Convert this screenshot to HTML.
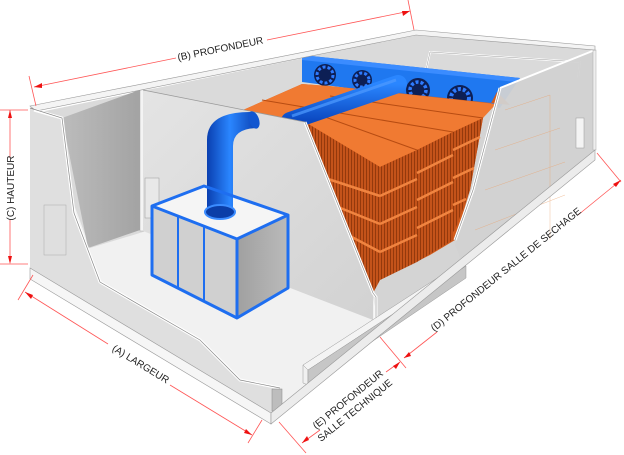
<!DOCTYPE html>
<html><head><meta charset="utf-8"><style>
html,body{margin:0;padding:0;background:#fff;}
svg{display:block;}
text{font-family:"Liberation Sans",Arial,sans-serif;font-size:10px;fill:#222;}
</style></head><body>
<svg width="624" height="455" viewBox="0 0 624 455" xmlns="http://www.w3.org/2000/svg">
<defs>
<linearGradient id="ldark" x1="0" y1="0" x2="1" y2="0"><stop offset="0" stop-color="#bcbcbc"/><stop offset="1" stop-color="#a2a2a2"/></linearGradient>
<linearGradient id="part" x1="0" y1="0" x2="1" y2="1"><stop offset="0" stop-color="#e4e4e4"/><stop offset="1" stop-color="#d2d2d2"/></linearGradient>
<linearGradient id="duct" x1="0" y1="0" x2="1" y2="0"><stop offset="0" stop-color="#0a3fb0"/><stop offset="0.45" stop-color="#2a86ff"/><stop offset="1" stop-color="#0a3fb0"/></linearGradient>
<linearGradient id="hduct" x1="0" y1="0" x2="0" y2="1"><stop offset="0" stop-color="#2a86ff"/><stop offset="1" stop-color="#0b48c0"/></linearGradient>
<linearGradient id="cabR" x1="0" y1="0" x2="1" y2="0"><stop offset="0" stop-color="#a0a0a0"/><stop offset="1" stop-color="#bababa"/></linearGradient>
<pattern id="stripes" width="3" height="6" patternUnits="userSpaceOnUse"><rect width="3" height="6" fill="#c4531a"/><rect width="1" height="6" fill="#94390c"/></pattern>
</defs>

<polygon points="30,267 271,413 595,150 595,60 142,89" fill="#f1f1f1"/>
<polygon points="40,112 416,35 595,50 595,110 143,232 90,248" fill="#dadada"/>
<polygon points="62,118 142,89 143,229 88,248" fill="url(#ldark)"/>
<rect x="140" y="89" width="4" height="142" fill="#f4f4f4" stroke="#aaa" stroke-width="0.5"/>
<polygon points="305,122 498,88 595,50 595,150 462,262 376,320 373,293" fill="#d4d4d4"/>
<polyline points="426,70 430,52 580,62 578,78" fill="none" stroke="#fff" stroke-width="2"/>
<polyline points="426,70 430,52 580,62 578,78" fill="none" stroke="#999" stroke-width="0.5"/>

<polygon points="302,55 520,78 500,108 302,82" fill="#1f78f0"/>
<polygon points="302,55 520,78 516,82 302,60" fill="#3b8cff"/>
<g>
<circle cx="325" cy="75" r="11" fill="#0d1f55"/><circle cx="325" cy="75" r="8" fill="none" stroke="#2e7bff" stroke-width="3" stroke-dasharray="3 2"/>
<circle cx="362" cy="80" r="10" fill="#0d1f55"/><circle cx="362" cy="80" r="7" fill="none" stroke="#2e7bff" stroke-width="3" stroke-dasharray="3 2"/>
<circle cx="418" cy="90" r="12" fill="#0d1f55"/><circle cx="418" cy="90" r="8" fill="none" stroke="#2e7bff" stroke-width="3.5" stroke-dasharray="3 2"/>
<circle cx="460" cy="98" r="13" fill="#0d1f55"/><circle cx="460" cy="98" r="9" fill="none" stroke="#2e7bff" stroke-width="4" stroke-dasharray="3 2"/>
</g>

<polygon points="243,110 302,84 350,88 510,105 497,92 483,118 470,190 455,240 430,255 380,280 373,293 305,122" fill="#d25c1c"/>
<polygon points="243,110 302,84 330,86 496,104 483,118 453,132 417,150 380,167 305,122" fill="#f07a32"/>
<line x1="262" y1="100" x2="453" y2="132" stroke="#b74c12" stroke-width="1"/>
<line x1="300" y1="108" x2="417" y2="150" stroke="#b74c12" stroke-width="1"/>
<line x1="330" y1="96" x2="483" y2="118" stroke="#b74c12" stroke-width="1"/>
<polygon points="305,122 380,167 380,280 373,293" fill="url(#stripes)"/>
<polygon points="380,167 417,150 417,262 380,280" fill="url(#stripes)"/>
<polygon points="417,150 453,132 453,240 417,262" fill="url(#stripes)"/>
<polygon points="453,132 483,118 470,190 455,230 453,232" fill="url(#stripes)"/>
<g stroke="#f08440" stroke-width="2.5">
<line x1="380" y1="196" x2="417" y2="179"/><line x1="380" y1="224" x2="417" y2="207"/><line x1="380" y1="252" x2="417" y2="235"/>
<line x1="417" y1="173" x2="453" y2="155"/><line x1="417" y1="200" x2="453" y2="182"/><line x1="417" y1="228" x2="453" y2="210"/>
<line x1="453" y1="150" x2="480" y2="137"/><line x1="453" y1="178" x2="474" y2="168"/><line x1="453" y1="205" x2="466" y2="199"/>
<line x1="325" y1="178" x2="380" y2="196"/><line x1="338" y1="207" x2="380" y2="224"/><line x1="350" y1="236" x2="380" y2="252"/>
</g>
<line x1="290" y1="121" x2="398" y2="84" stroke="url(#hduct)" stroke-width="18" stroke-linecap="round"/>
<line x1="292" y1="116" x2="396" y2="80" stroke="#4f9bff" stroke-width="3" opacity="0.7"/>

<polygon points="500,88 595,50 595,150 462,262 455,245 473,190" fill="#d2d2d2" opacity="0.95"/>
<g stroke="#e9a36f" stroke-width="0.5" fill="none" opacity="0.7">
<polyline points="505,110 550,95 550,240"/><polyline points="495,150 560,128"/><polyline points="485,190 565,162"/><polyline points="475,230 565,195"/>
</g>
<polyline points="500,88 473,190 455,240" fill="none" stroke="#fff" stroke-width="3"/>
<polyline points="500,88 473,190 455,240" fill="none" stroke="#888" stroke-width="0.6"/>
<line x1="500" y1="88" x2="595" y2="50" stroke="#fff" stroke-width="2"/>
<rect x="576" y="118" width="8" height="30" fill="#f4f4f4" stroke="#999" stroke-width="0.5"/>
<rect x="593" y="50" width="3" height="100" fill="#eee" stroke="#aaa" stroke-width="0.5"/>

<polygon points="143,90 305,122 373,293 373,320 143,231" fill="url(#part)"/>
<polyline points="305,122 373,293 376,297 376,322" fill="none" stroke="#fff" stroke-width="3"/>
<polyline points="305,122 373,293 376,297 376,322" fill="none" stroke="#888" stroke-width="0.6"/>
<line x1="143" y1="90" x2="305" y2="122" stroke="#999" stroke-width="0.8"/>
<rect x="145" y="178" width="14" height="40" fill="#e8e8e8" stroke="#999" stroke-width="0.5"/>

<polygon points="30,106 416,30 595,46 595,50 416,35 36,111" fill="#f4f4f4" stroke="#999" stroke-width="0.6"/>

<polygon points="30,108 62,118 74,213 100,282 200,340 240,380 280,388 280,408 271,413 30,268" fill="#dfdfdf"/>
<polyline points="34,110 62,118 74,213 100,282 200,340 240,380 280,388" fill="none" stroke="#fff" stroke-width="3"/>
<polyline points="30,108 62,118 74,213 100,282 200,340 240,380 280,388" fill="none" stroke="#888" stroke-width="0.7"/>
<rect x="44" y="205" width="22" height="50" fill="none" stroke="#aaa" stroke-width="0.5"/>
<rect x="272" y="389" width="10" height="22" fill="#bdbdbd" stroke="#888" stroke-width="0.5"/>

<polygon points="303,365 462,262 466,266 308,370" fill="#f4f4f4" stroke="#999" stroke-width="0.5"/>
<polygon points="303,365 308,370 308,385 303,383" fill="#f0f0f0" stroke="#999" stroke-width="0.5"/>
<polygon points="308,370 466,266 466,278 308,385" fill="#c6c6c6" stroke="#999" stroke-width="0.5"/>

<polygon points="30,268 271,413 271,424 30,279" fill="#f6f6f6" stroke="#999" stroke-width="0.6"/>
<polygon points="271,413 595,150 595,160 271,424" fill="#ececec" stroke="#999" stroke-width="0.6"/>

<line x1="220" y1="212" x2="220" y2="140" stroke="url(#duct)" stroke-width="26"/>
<polygon points="152,206 204,186 288,215 237,239" fill="#f5f5f5"/>
<path d="M207,212 L207,140 Q207,112 250,112 L258,128 Q233,128 233,146 L233,212 Z" fill="url(#duct)"/>
<ellipse cx="254" cy="120" rx="5" ry="9" transform="rotate(-20 254 120)" fill="#1256d0"/>
<ellipse cx="220" cy="212" rx="15" ry="7" fill="#0b3ea8" stroke="#3b8cff" stroke-width="2"/>
<polygon points="152,206 237,239 237,318 152,275" fill="#d0d0d0"/>
<polygon points="237,239 288,215 288,288 237,318" fill="url(#cabR)"/>
<g fill="none" stroke="#1e6ef0" stroke-width="3" stroke-linejoin="round">
<polygon points="152,206 204,186 288,215 237,239"/>
<polyline points="152,206 152,275 237,318 288,288 288,215"/>
<line x1="237" y1="239" x2="237" y2="318"/>
</g>
<line x1="178" y1="216" x2="178" y2="288" stroke="#1e6ef0" stroke-width="2"/>
<line x1="204" y1="226" x2="204" y2="302" stroke="#1e6ef0" stroke-width="2"/>

<g stroke="#ff5555" stroke-width="0.8" fill="none">
<line x1="34" y1="87" x2="176" y2="58"/><line x1="267" y1="40" x2="410" y2="11"/>
<line x1="29" y1="76" x2="36" y2="106"/><line x1="408" y1="0" x2="414" y2="30"/>
<line x1="10" y1="110" x2="10" y2="158"/><line x1="10" y1="220" x2="10" y2="262"/>
<line x1="0" y1="110" x2="28" y2="110"/><line x1="0" y1="264" x2="28" y2="264"/>
<line x1="25" y1="292" x2="108" y2="344"/><line x1="170" y1="385" x2="252" y2="435"/>
<line x1="18" y1="300" x2="33" y2="275"/><line x1="248" y1="443" x2="262" y2="420"/>
<line x1="279" y1="422" x2="306" y2="453"/><line x1="380" y1="337" x2="406" y2="368"/>
<line x1="597" y1="153" x2="621" y2="182"/>
<line x1="302" y1="443" x2="320" y2="430"/><line x1="386" y1="372" x2="400" y2="362"/>
<line x1="404" y1="358" x2="437" y2="332"/><line x1="578" y1="215" x2="621" y2="180"/>
</g>
<g fill="#ee1111">
<polygon points="34,87 42,83 42,88"/><polygon points="410,11 402,11 403,16"/>
<polygon points="10,110 8,118 12,118"/><polygon points="10,264 8,256 12,256"/>
<polygon points="25,292 31,299 33,295"/><polygon points="252,435 244,433 246,429"/>
<polygon points="302,443 307,436 309,440"/><polygon points="400,362 393,366 396,369"/>
<polygon points="404,358 409,352 411,356"/><polygon points="621,180 616,187 613,184"/>
</g>
<text x="221" y="52" text-anchor="middle" transform="rotate(-11.5 221 52)">(B) PROFONDEUR</text>
<text x="14" y="188" text-anchor="middle" transform="rotate(-90 14 188)">(C) HAUTEUR</text>
<text x="139" y="367" text-anchor="middle" transform="rotate(31.5 139 367)">(A) LARGEUR</text>
<text x="508" y="272" text-anchor="middle" transform="rotate(-39 508 272)">(D) PROFONDEUR SALLE DE SECHAGE</text>
<text x="350" y="402" text-anchor="middle" transform="rotate(-39 350 402)">(E) PROFONDEUR</text>
<text x="357" y="413" text-anchor="middle" transform="rotate(-39 357 413)">SALLE TECHNIQUE</text>
</svg>
</body></html>
